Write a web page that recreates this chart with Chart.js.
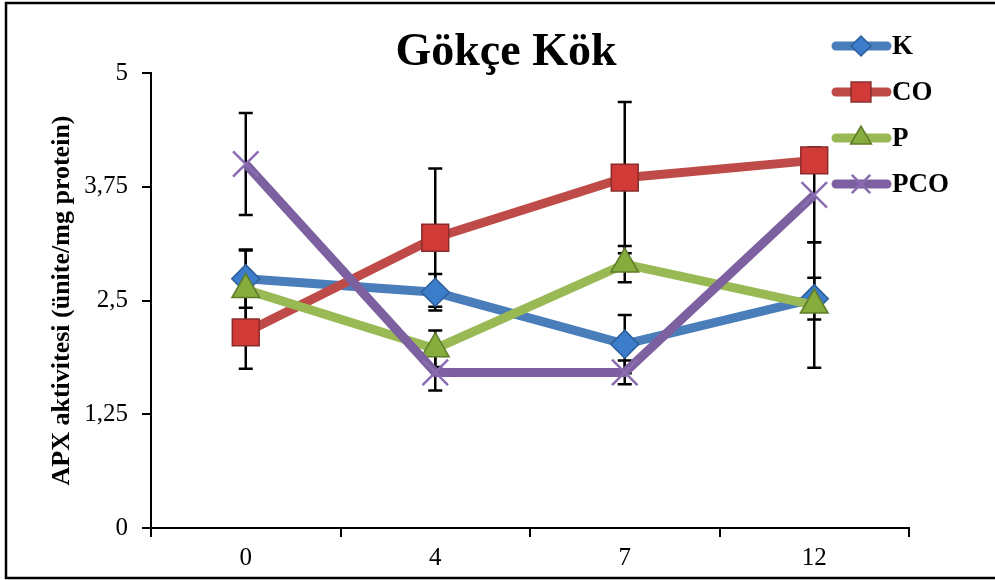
<!DOCTYPE html>
<html>
<head>
<meta charset="utf-8">
<script src="https://cdn.jsdelivr.net/npm/chart.js@4"></script>
<style>
  body { margin: 0; background: #fff; }
  #wrap { width: 995px; height: 580px; position: relative; }
</style>
</head>
<body>
<div id="wrap"><canvas id="apxChart" width="995" height="580"></canvas></div>
<script>
// grafik verileri
const gunler = ['0', '4', '7', '12'];
const yTikler = [0, 1.25, 2.5, 3.75, 5];
const seriAdlari = ['K', 'CO', 'P', 'PCO'];

const kDeger = [2.74, 2.59, 2.02, 2.52];
const coDeger = [2.15, 3.19, 3.85, 4.04];
const pDeger = [2.62, 1.97, 2.90, 2.45];
const pcoDeger = [4.00, 1.71, 1.71, 3.66];

// standart hata
const kHata = [0.32, 0.20, 0.32, 0.23];
const coHata = [0.40, 0.76, 0.83, 0.10];
const pHata = [0.43, 0.20, 0.20, 0.69];
const pcoHata = [0.56, 0.20, 0.13, 0.52];

const serifFont = "'Liberation Serif', 'Times New Roman', serif";

// hata çubukları (noktaların arkasında)
const hataCubuklari = {
    id: 'hataCubuklari',
    beforeDatasetsDraw(chart) {
        const ctx = chart.ctx;
        const xS = chart.scales.x;
        const yS = chart.scales.y;
        ctx.save();
        ctx.strokeStyle = '#000';
        ctx.lineWidth = 2.5;
        chart.data.datasets.forEach(ds => {
            ds.data.forEach((v, i) => {
                const e = ds.hata[i];
                const x = xS.getPixelForValue(i);
                const y1 = yS.getPixelForValue(v + e);
                const y2 = yS.getPixelForValue(v - e);
                ctx.beginPath();
                ctx.moveTo(x, y1); ctx.lineTo(x, y2);
                ctx.moveTo(x - 7, y1); ctx.lineTo(x + 7, y1);
                ctx.moveTo(x - 7, y2); ctx.lineTo(x + 7, y2);
                ctx.stroke();
            });
        });
        ctx.restore();
    }
};

// başlık, lejant ve çerçeve
const ekler = {
    id: 'ekler',
    afterDraw(chart) {
        const ctx = chart.ctx;
        ctx.save();
        ctx.fillStyle = '#000';
        ctx.font = 'bold 46px ' + serifFont;
        ctx.textAlign = 'center';
        ctx.textBaseline = 'middle';
        ctx.fillText('Gökçe Kök', 506, 53);

        // lejant işaretleri biraz daha küçük
        const lejantYaricap = [10, 14, 12, 13];
        chart.data.datasets.forEach((ds, i) => {
            const y = 46 + i * 46;
            ctx.beginPath();
            ctx.lineCap = 'round';
            ctx.lineWidth = 9;
            ctx.strokeStyle = ds.borderColor;
            ctx.moveTo(836, y); ctx.lineTo(887, y);
            ctx.stroke();
            ctx.fillStyle = ds.pointBackgroundColor;
            ctx.strokeStyle = ds.pointBorderColor;
            ctx.lineWidth = ds.pointBorderWidth;
            ctx.lineCap = 'butt';
            Chart.helpers.drawPoint(ctx, {
                pointStyle: ds.pointStyle,
                radius: lejantYaricap[i],
                borderWidth: ds.pointBorderWidth,
                rotation: 0
            }, 861, y);
            ctx.fillStyle = '#000';
            ctx.font = 'bold 27px ' + serifFont;
            ctx.textAlign = 'left';
            ctx.fillText(ds.label, 892, y + 1);
        });

        ctx.lineWidth = 2.5;
        ctx.strokeStyle = '#000';
        ctx.strokeRect(6, 3, 1000, 575);
        ctx.restore();
    }
};

function seri(ad, veri, hata, cizgi, dolgu, kenar, stil, yaricap, sira) {
    return {
        label: ad,
        data: veri,
        hata: hata,
        borderColor: cizgi,
        borderWidth: 9,
        pointStyle: stil,
        pointRadius: yaricap,
        pointHoverRadius: yaricap,
        pointBackgroundColor: dolgu,
        pointBorderColor: kenar,
        pointBorderWidth: stil === 'crossRot' ? 2.5 : 1.5,
        tension: 0,
        order: sira
    };
}

new Chart(document.getElementById('apxChart'), {
    type: 'line',
    data: {
        labels: gunler,
        datasets: [
            seri(seriAdlari[0], kDeger, kHata, '#4A7EBB', '#3B7DCB', '#2D5E98', 'rectRot', 14, 4),
            seri(seriAdlari[1], coDeger, coHata, '#BE4B48', '#D03A37', '#8A2C2A', 'rect', 19, 3),
            seri(seriAdlari[2], pDeger, pHata, '#98B954', '#86AC3D', '#5E7C2A', 'triangle', 16, 2),
            seri(seriAdlari[3], pcoDeger, pcoHata, '#7D60A0', '#8064A2', '#8A6DB0', 'crossRot', 18, 1)
        ]
    },
    options: {
        responsive: false,
        animation: false,
        devicePixelRatio: 1,
        layout: { padding: { left: 0, top: 73, right: 86, bottom: 0 } },
        plugins: {
            legend: { display: false },
            title: { display: false },
            tooltip: { enabled: false }
        },
        scales: {
            x: {
                offset: true,
                grid: { offset: true, drawOnChartArea: false, tickLength: 9, color: '#000', lineWidth: 2 },
                border: { color: '#000', width: 2 },
                ticks: { color: '#000', font: { family: serifFont, size: 25 }, padding: 6 },
                afterFit(s) { s.height = 52; }
            },
            y: {
                min: 0,
                max: 5,
                afterBuildTicks(s) { s.ticks = yTikler.map(v => ({ value: v })); },
                grid: { drawOnChartArea: false, tickLength: 9, color: '#000', lineWidth: 2 },
                border: { color: '#000', width: 2 },
                ticks: {
                    color: '#000',
                    font: { family: serifFont, size: 25 },
                    padding: 14,
                    callback: v => String(v).replace('.', ',')
                },
                title: {
                    display: true,
                    text: 'APX aktivitesi (ünite/mg protein)',
                    color: '#000',
                    font: { family: serifFont, size: 26, weight: 'bold' },
                    padding: { top: 47, bottom: 0 }
                },
                afterFit(s) { s.width = 151; }
            }
        }
    },
    plugins: [hataCubuklari, ekler]
});
</script>
</body>
</html>
